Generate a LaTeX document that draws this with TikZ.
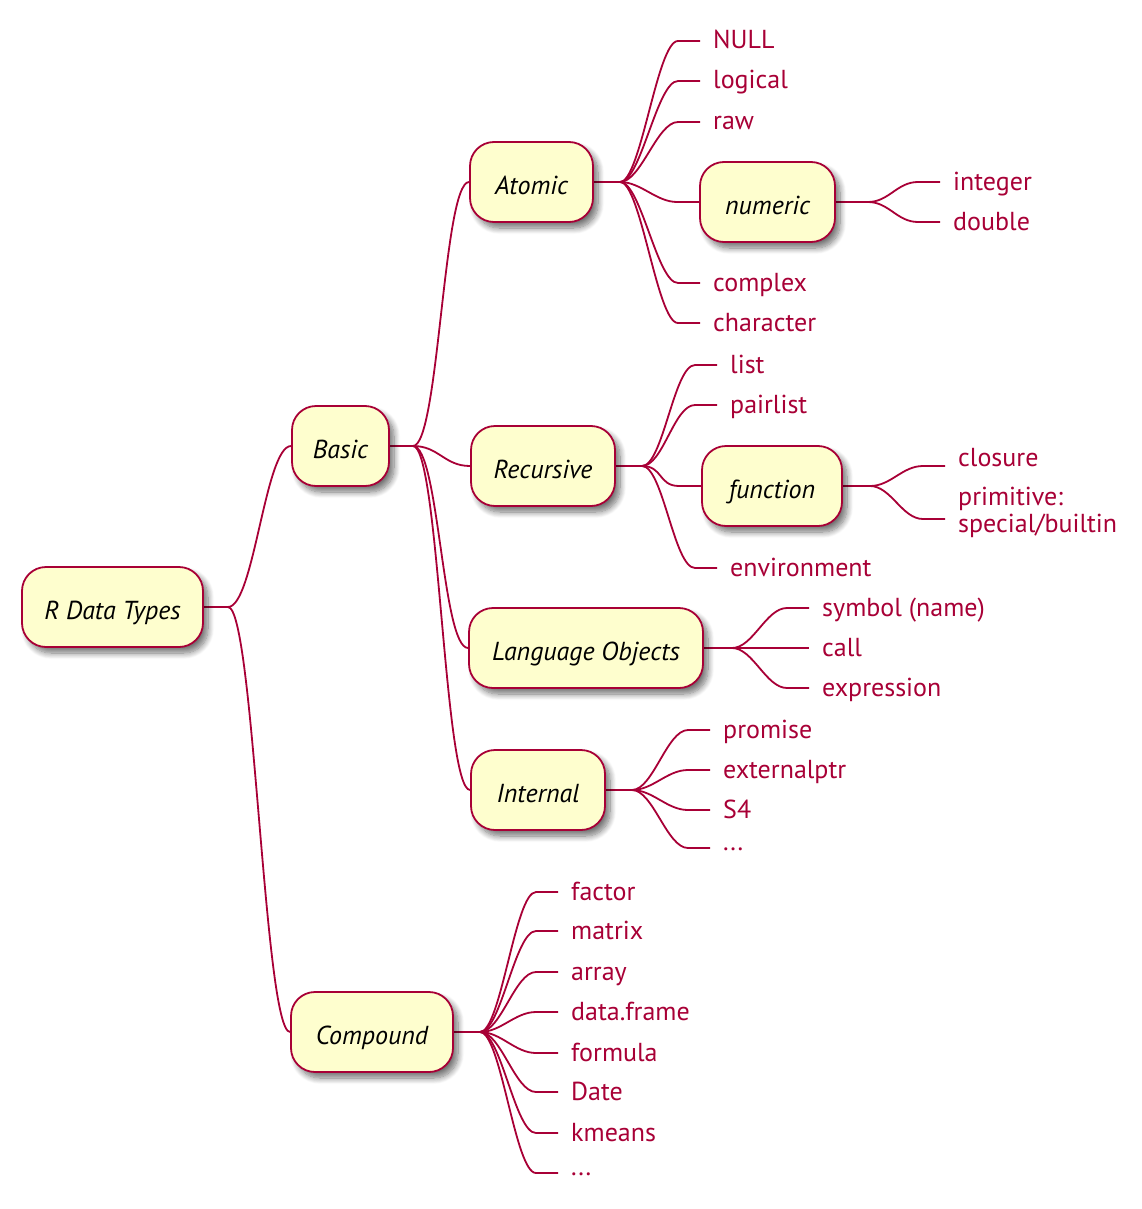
\documentclass[tikz,border=0pt]{standalone}
\usepackage{fontspec}
\setmainfont{PT Sans}
\usetikzlibrary{shadows.blur}
\definecolor{pu}{HTML}{A80036}
\definecolor{boxfill}{HTML}{FEFECE}
\pgfdeclarelayer{bg}
\pgfsetlayers{bg,main}
\newcommand\mmlink[3][21]{\draw[conn] (#2) .. controls +(#1,0) and +(-#1,0) .. ([xshift=-22pt]#3) -- (#3);}
\newcommand\mmbranch[3][26]{\draw[conn] (#2) .. controls +(#1,0) and +(-#1,0) .. (#3);}
\begin{document}
\begin{tikzpicture}[x=1pt,y=-1pt,
  mmbox/.style={draw=pu, line width=1.8pt, fill=boxfill, rounded corners=24pt,
    minimum height=80pt, inner sep=0pt, text=black,
    font=\fontsize{26}{28}\selectfont\itshape, text depth=0pt, text height=24pt,
    blur shadow={shadow xshift=5pt, shadow yshift=-6pt, shadow blur steps=10, shadow blur radius=6pt, shadow opacity=55}},
  leaf/.style={anchor=base west, inner sep=0pt, text=pu, font=\fontsize{26}{27}\selectfont},
  conn/.style={draw=pu, line width=1.8pt}]
\useasboundingbox (0,0) rectangle (1141,1209);

% boxes
\node[mmbox, minimum width=181pt] (root) at (112.5,607) {R Data Types};
\node[mmbox, minimum width=97pt] (basic) at (340.5,446) {Basic};
\node[mmbox, minimum width=162pt] (compound) at (372,1032) {Compound};
\node[mmbox, minimum width=123pt] (atomic) at (531.5,182) {Atomic};
\node[mmbox, minimum width=144pt] (recursive) at (543,466) {Recursive};
\node[mmbox, minimum width=234pt] (lang) at (586,648) {Language Objects};
\node[mmbox, minimum width=134pt] (internal) at (538,790) {Internal};
\node[mmbox, minimum width=135pt] (numeric) at (767.5,202) {numeric};
\node[mmbox, minimum width=140pt] (function) at (772,486) {function};

% leaves
\node[leaf] (null) at (713,49) {NULL};
\node[leaf] (logical) at (713,89) {logical};
\node[leaf] (raw) at (713,130) {raw};
\node[leaf] (complex) at (713,291) {complex};
\node[leaf] (character) at (713,331) {character};
\node[leaf] (integer) at (953,190) {integer};
\node[leaf] (double) at (953,230) {double};
\node[leaf] (list) at (730,373) {list};
\node[leaf] (pairlist) at (730,413) {pairlist};
\node[leaf] (environment) at (730,576) {environment};
\node[leaf] (closure) at (958,466) {closure};
\node[leaf, anchor=west, align=left] (primitive) at (958,512) {primitive:\\special/builtin};
\node[leaf] (symbol) at (822,616) {symbol (name)};
\node[leaf] (call) at (822,656) {call};
\node[leaf] (expression) at (822,696) {expression};
\node[leaf] (promise) at (723,738) {promise};
\node[leaf] (externalptr) at (723,778) {externalptr};
\node[leaf] (sfour) at (723,818) {S4};
\node[leaf] (idots) at (723,850) {...};
\node[leaf] (factor) at (571,900) {factor};
\node[leaf] (matrix) at (571,939) {matrix};
\node[leaf] (array) at (571,980) {array};
\node[leaf] (dataframe) at (571,1020) {data.frame};
\node[leaf] (formula) at (571,1061) {formula};
\node[leaf] (date) at (571,1100) {Date};
\node[leaf] (kmeans) at (571,1141) {kmeans};
\node[leaf] (cdots) at (571,1175) {...};

% branch points
\coordinate (bRoot) at (228,607);
\coordinate (bBasic) at (413,446);
\coordinate (bCompound) at (480,1032);
\coordinate (bAtomic) at (620,182);
\coordinate (bNumeric) at (868,202);
\coordinate (bRecursive) at (642,466);
\coordinate (bFunction) at (870,486);
\coordinate (bLang) at (732,648);
\coordinate (bInternal) at (632,790);

% leaf line ends
\foreach \n in {null,logical,raw,complex,character,integer,double,list,pairlist,environment,symbol,call,expression,promise,externalptr,sfour,factor,matrix,array,dataframe,formula,date,kmeans}
  {\coordinate (e\n) at ([xshift=-13pt,yshift=8pt]\n.base west);}
\coordinate (eclosure) at ([xshift=-13pt]closure.base west);
\coordinate (eprimitive) at ([xshift=-13pt,yshift=-7pt]primitive.west);
\coordinate (eidots) at ([xshift=-13pt,yshift=2pt]idots.base west);
\coordinate (ecdots) at ([xshift=-13pt,yshift=2pt]cdots.base west);

\begin{pgfonlayer}{bg}
% stems
\draw[conn] (root.east) -- (bRoot);
\draw[conn] (basic.east) -- (bBasic);
\draw[conn] (compound.east) -- (bCompound);
\draw[conn] (atomic.east) -- (bAtomic);
\draw[conn] (numeric.east) -- (bNumeric);
\draw[conn] (recursive.east) -- (bRecursive);
\draw[conn] (function.east) -- (bFunction);
\draw[conn] (lang.east) -- (bLang);
\draw[conn] (internal.east) -- (bInternal);
% level 1 and 2
\mmbranch{bRoot}{basic.west}
\mmbranch{bRoot}{compound.west}
\mmbranch{bBasic}{atomic.west}
\mmbranch{bBasic}{recursive.west}
\mmbranch{bBasic}{lang.west}
\mmbranch{bBasic}{internal.west}
% deeper
\mmlink{bAtomic}{enull}
\mmlink{bAtomic}{elogical}
\mmlink{bAtomic}{eraw}
\mmlink{bAtomic}{numeric.west}
\mmlink{bAtomic}{ecomplex}
\mmlink{bAtomic}{echaracter}
\mmlink{bNumeric}{einteger}
\mmlink{bNumeric}{edouble}
\mmlink{bRecursive}{elist}
\mmlink{bRecursive}{epairlist}
\mmlink{bRecursive}{function.west}
\mmlink{bRecursive}{eenvironment}
\mmlink{bFunction}{eclosure}
\mmlink{bFunction}{eprimitive}
\mmlink{bLang}{esymbol}
\mmlink{bLang}{ecall}
\mmlink{bLang}{eexpression}
\mmlink{bInternal}{epromise}
\mmlink{bInternal}{eexternalptr}
\mmlink{bInternal}{esfour}
\mmlink{bInternal}{eidots}
\mmlink{bCompound}{efactor}
\mmlink{bCompound}{ematrix}
\mmlink{bCompound}{earray}
\mmlink{bCompound}{edataframe}
\mmlink{bCompound}{eformula}
\mmlink{bCompound}{edate}
\mmlink{bCompound}{ekmeans}
\mmlink{bCompound}{ecdots}
\end{pgfonlayer}
\end{tikzpicture}
\end{document}
